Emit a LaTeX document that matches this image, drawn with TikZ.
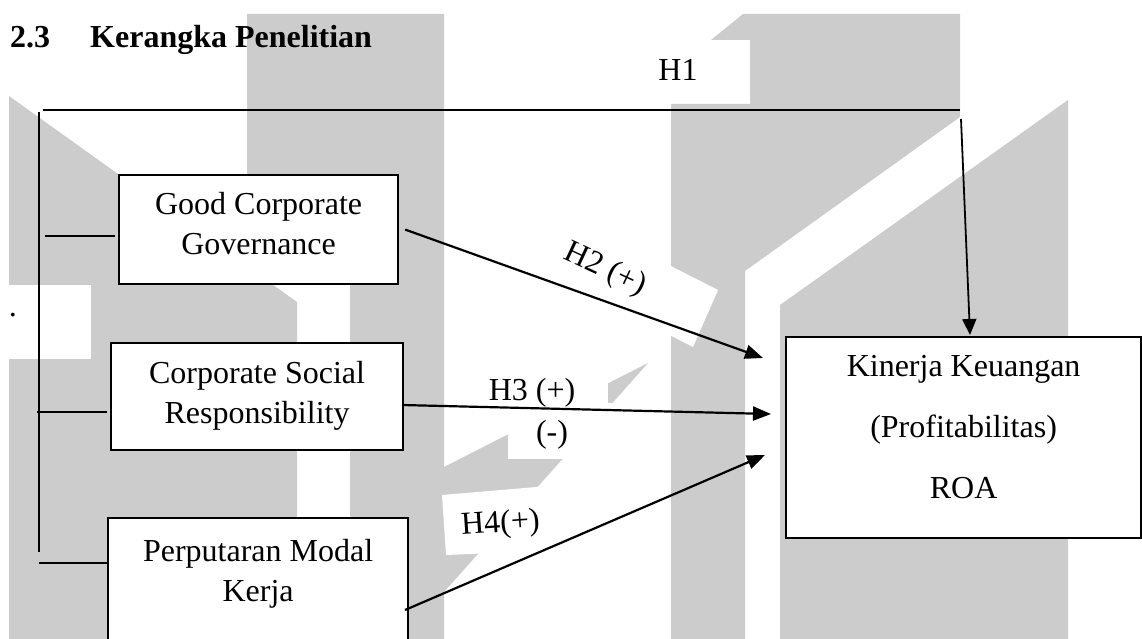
\documentclass[tikz,border=0pt]{standalone}
\usepackage{fontspec}
\setmainfont{Liberation Serif}
\usetikzlibrary{arrows.meta,calc}
\definecolor{wm}{HTML}{CCCCCC}
\tikzset{
  wmark/.style={fill=wm, draw=none},
  wpatch/.style={fill=white, draw=none},
  varbox/.style={draw, line width=2.2pt, inner sep=0pt, align=flush center, fill=white,
    anchor=north west, font=\fontsize{32}{40}\selectfont},
  lbl/.style={inner sep=0pt, font=\fontsize{32}{40}\selectfont, anchor=base},
  hyp/.style={line width=2.2pt, -{Triangle[length=18pt,width=14pt]}},
  thinline/.style={line width=1.3pt},
}
\begin{document}
\begin{tikzpicture}[x=1pt,y=-1pt]
\clip (0,0) rectangle (1142,639);
\fill[white] (0,0) rectangle (1142,639);
% ---- watermark ----
\fill[wmark] (9,96) -- (297,302) -- (297,639) -- (9,639) -- cycle;
\fill[wmark] (247,14) -- (444,14) -- (444,639) -- (350,639) -- (350,283) -- (247,283) -- cycle;
\fill[wmark] (648,363) -- (444,467) -- (444,592) -- cycle;
\fill[wmark] (671,104) -- (750,104) -- (750,40) -- (711,40) -- (743,14) -- (960,14) -- (960,117) -- (745,271) -- (745,639) -- (671,639) -- cycle;
\fill[wmark] (1068,100) -- (1068,639) -- (780,639) -- (780,305) -- cycle;
\fill[wpatch] (0,285) rectangle (91,359);
\fill[wpatch] (600,230) -- (718,290) -- (693,347) -- (575,287) -- cycle;
\fill[wpatch] (460,350) rectangle (608,403);
\fill[wpatch] (508,403) rectangle (660,459);
\fill[wpatch] (442,495) -- (560,485) -- (565,550) -- (446,555) -- cycle;
% ---- title ----
\node[lbl, anchor=base west, font=\bfseries\fontsize{32}{40}\selectfont] (sec) at (10,48) {2.3};
\node[lbl, anchor=base west, font=\bfseries\fontsize{32}{40}\selectfont] (ttl) at (90,48) {Kerangka Penelitian};
% ---- boxes ----
\node[varbox, text width=279pt, text height=39pt, text depth=70pt] (gcg) at (118,174) {Good Corporate\\Governance};
\node[varbox, text width=292pt, text height=40pt, text depth=67pt] (csr) at (110,342) {Corporate Social\\Responsibility};
\node[varbox, text width=300pt, text height=43pt, text depth=110pt] (pmk) at (107,517) {Perputaran Modal\\Kerja};
\node[varbox, text width=355pt, text height=39pt, text depth=162pt, font=\fontsize{32}{61}\selectfont] (kin) at (785,336) {Kinerja Keuangan\\(Profitabilitas)\\ROA};
% ---- bracket ----
\coordinate (topL) at (43,110);
\coordinate (topR) at (960,110);
\coordinate (bT) at (39,112);
\coordinate (bB) at (39,552);
\coordinate (s1) at (45,236);
\coordinate (s2) at (37,412);
\coordinate (s3) at (39,563);
\draw[thinline] (topL) -- (topR);
\draw[line width=1.5pt] (bT) -- (bB);
\draw[thinline, shorten >=3pt] (s1) -- (s1 -| gcg.west);
\draw[thinline, shorten >=3pt] (s2) -- (s2 -| csr.west);
\draw[thinline] (s3) -- (s3 -| pmk.west);
% ---- hypotheses ----
\coordinate (h1s) at (961,119);
\coordinate (h1e) at (970,335);
\coordinate (t2) at (763,358);
\coordinate (h3s) at (402,405);
\coordinate (t3) at (771,414);
\coordinate (h4s) at (405,610);
\coordinate (t4) at (765,455);
\draw[line width=1.8pt, -{Triangle[length=16pt,width=14pt]}] (h1s) -- (h1e);
\draw[hyp] ([xshift=6pt]gcg.east) -- (t2);
\draw[hyp] (h3s) -- (t3);
\draw[hyp] (h4s) -- (t4);
% ---- labels ----
\node[lbl] (l1) at (678,81) {H1};
\node[lbl, rotate=-25, anchor=center] (l2) at (605,270) {H2 (+)};
\node[lbl] (l3) at (532,400) {H3 (+)};
\node[lbl] (l3b) at (552,442) {(-)};
\node[lbl, rotate=4] (l4) at (501,532) {H4(+)};
\node[lbl] (dot) at (13,316) {.};
\end{tikzpicture}
\end{document}
